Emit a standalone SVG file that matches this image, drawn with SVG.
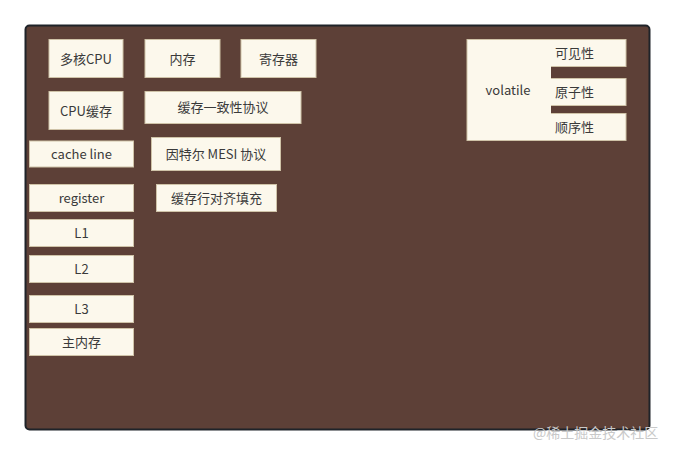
<svg xmlns="http://www.w3.org/2000/svg" width="675" height="455" viewBox="0 0 675 455">
<style>
.n rect{fill:#fcf8ec;stroke:#cfc3a8;stroke-width:1}
text{font-family:"Noto Sans CJK SC","Liberation Sans",sans-serif;font-size:13px;fill:#3a3a3a;dominant-baseline:central}
.c{text-anchor:middle}
</style>
<rect width="675" height="455" fill="#ffffff"/>
<rect x="25.5" y="25.5" width="624" height="404" rx="4" fill="#5d4037" stroke="#1f2329" stroke-width="2"/>
<g id="n1" class="n"><rect x="49" y="39.5" width="74" height="38"/><text class="c" x="86" y="58">多核CPU</text></g>
<g id="n2" class="n"><rect x="145" y="39.5" width="75" height="38"/><text class="c" x="182.5" y="58">内存</text></g>
<g id="n3" class="n"><rect x="241" y="39.5" width="75" height="38"/><text class="c" x="278.5" y="58">寄存器</text></g>
<g id="n4" class="n"><rect x="49" y="91.5" width="74" height="38"/><text class="c" x="86" y="110.5">CPU缓存</text></g>
<g id="n5" class="n"><rect x="145" y="91.5" width="156" height="32"/><text class="c" x="223" y="106.5">缓存一致性协议</text></g>
<g id="n6" class="n"><rect x="29.5" y="141" width="104" height="26"/><text class="c" x="81.5" y="153.5">cache line</text></g>
<g id="n7" class="n"><rect x="151.5" y="137.5" width="129" height="33"/><text class="c" x="216" y="153.5">因特尔 MESI 协议</text></g>
<g id="n8" class="n"><rect x="29.5" y="184.5" width="104" height="27"/><text class="c" x="81.5" y="197.5">register</text></g>
<g id="n9" class="n"><rect x="156.5" y="184.5" width="120" height="27"/><text class="c" x="216.5" y="197.5">缓存行对齐填充</text></g>
<g id="n10" class="n"><rect x="29.5" y="219.5" width="104" height="27"/><text class="c" x="81.5" y="232.5">L1</text></g>
<g id="n11" class="n"><rect x="29.5" y="255.5" width="104" height="27"/><text class="c" x="81.5" y="268.5">L2</text></g>
<g id="n12" class="n"><rect x="29.5" y="295.5" width="104" height="27"/><text class="c" x="81.5" y="308.5">L3</text></g>
<g id="n13" class="n"><rect x="29.5" y="328.5" width="104" height="27"/><text class="c" x="81.5" y="341.5">主内存</text></g>
<g id="n14" class="n"><rect x="467" y="39.5" width="83" height="101"/><text class="c" x="508" y="89.5">volatile</text></g>
<g id="n15" class="n"><rect x="549" y="39.5" width="77" height="27"/><text x="555" y="52.5">可见性</text></g>
<g id="n16" class="n"><rect x="549" y="78.5" width="77" height="27"/><text x="555" y="91.5">原子性</text></g>
<g id="n17" class="n"><rect x="549" y="113.5" width="77" height="27"/><text x="555" y="126.5">顺序性</text></g>
<rect x="548" y="40" width="3" height="100" fill="#fcf8ec"/>
<g id="connectors"></g>
<text x="533" y="432" style="font-size:14px;fill:#c9c9c9">@稀土掘金技术社区</text>
</svg>
